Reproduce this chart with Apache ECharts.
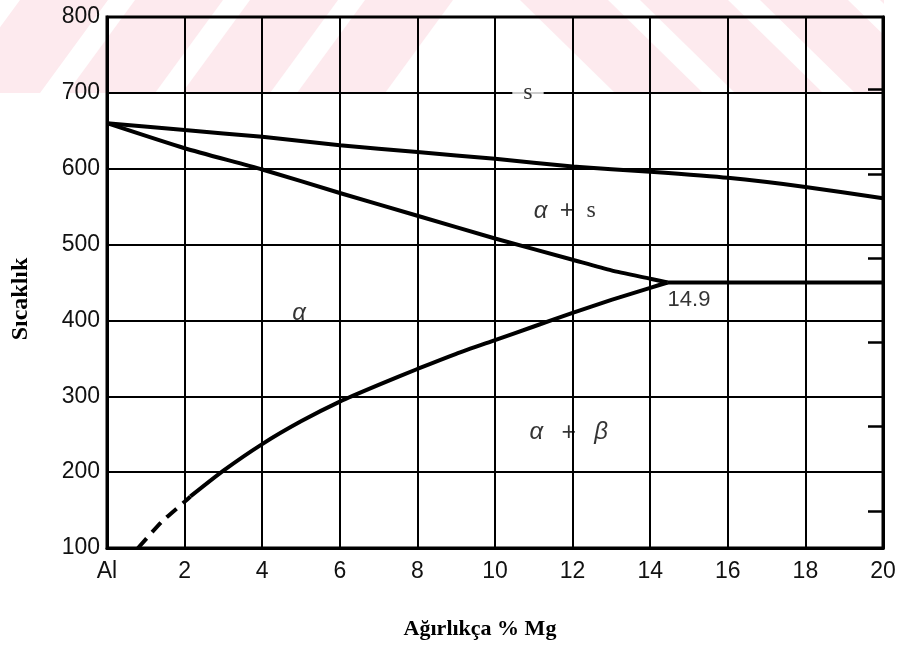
<!DOCTYPE html>
<html>
<head>
<meta charset="utf-8">
<script src="https://cdn.jsdelivr.net/npm/echarts@6/dist/echarts.min.js"></script>
<style>html,body{margin:0;padding:0;background:#fff}#c{width:904px;height:647px}</style>
</head>
<body>
<div id="c"></div>
<script>
// ---- data ----
const xTickLabels = ['Al','2','4','6','8','10','12','14','16','18','20'];
const liquidusX = [0, 2, 4, 6, 8, 10, 12, 14, 16, 18, 20];
const liquidusY = [660, 651, 642, 631, 622, 613, 603, 596, 588, 576, 561];
const solidusX = [0, 2, 4, 6, 8, 10, 12, 13, 14, 14.45];
const solidusY = [660, 627, 599, 568, 538, 508, 480, 466, 455, 450];
const eutecticX = [14.45, 20];
const eutecticY = [450, 450];
const solvusX = [2.15, 3, 4, 5, 6, 7, 8, 9, 10, 11, 12, 13, 14, 14.45];
const solvusY = [168, 202, 237, 267, 293, 315, 336, 356, 374, 392, 410, 427, 443, 450];
const solvusDashX = [0.8, 1.4, 2.0, 2.15];
const solvusDashY = [100, 134, 161, 168];
const fahrenheitTicks = [300, 500, 700, 900, 1100, 1300];
const labelX = [10.85, 11.8, 11.9, 4.95, 15.0];
const labelY = [700, 544, 252, 410, 427];
const labelText = ['s', 'alpha_s', 'alpha_beta', 'alpha', '14.9'];

const zip = (a, b) => a.map((v, i) => [v, b[i]]);
const rightTickC = fahrenheitTicks.map(f => (f - 32) * 5 / 9);

const chart = echarts.init(document.getElementById('c'), null, {renderer: 'canvas'});

// watermark stripes (decorative, top band)
const stripes = [];
const pink = '#fdeaee';
const H = 93;
[-95, 20, 135, 250, 365].forEach(x0 => {
  stripes.push({type: 'polygon', z: -10, silent: true,
    shape: {points: [[x0, 0], [x0 + 88, 0], [x0 + 88 - 68, H], [x0 - 68, H]]},
    style: {fill: pink}});
});
[520, 640, 760, 880].forEach(x0 => {
  stripes.push({type: 'polygon', z: -10, silent: true,
    shape: {points: [[x0, 0], [x0 + 88, 0], [x0 + 88 + 95, H], [x0 + 95, H]]},
    style: {fill: pink}});
});
stripes.push({type: 'rect', z: -9, silent: true, shape: {x: 884, y: 0, width: 20, height: H}, style: {fill: '#fff'}});

const lineSeries = (data, dashed) => ({
  type: 'line', data: data, symbol: 'none', smooth: 0.2, z: 5,
  lineStyle: {color: '#000', width: 4, type: dashed ? [13, 8] : 'solid', cap: 'butt'}
});

const richStyles = {
  g: {fontFamily: 'Liberation Sans', fontStyle: 'italic', fontSize: 24, color: '#000'},
  p: {fontFamily: 'Liberation Sans', fontSize: 25, color: '#000'},
  s: {fontFamily: 'Liberation Serif', fontSize: 24, color: '#000'},
  n: {fontFamily: 'Liberation Sans', fontSize: 22, color: '#000'}
};
const fmt = {
  's': '{s|s}',
  'alpha_s': '{g|α}  {p|+}  {s|s}',
  'alpha_beta': '{g|α}   {p|+}   {g|β}',
  'alpha': '{g|α}',
  '14.9': '{n|14.9}'
};

const labelData = labelX.map((x, i) => {
  const item = {value: [x, labelY[i]], name: labelText[i]};
  if (labelText[i] === 's') item.label = {backgroundColor: '#fff', padding: [2, 11, 2, 11]};
  return item;
});

chart.setOption({
  animation: false,
  backgroundColor: '#fff',
  graphic: stripes,
  grid: {left: 107, right: 21, top: 17, bottom: 99, show: true, borderColor: '#000', borderWidth: 3, backgroundColor: 'transparent'},
  xAxis: {
    type: 'value', min: 0, max: 20, interval: 2,
    name: 'Ağırlıkça % Mg', nameLocation: 'middle', nameGap: 70,
    nameTextStyle: {fontFamily: 'Liberation Serif', fontWeight: 'bold', fontSize: 22, color: '#000', padding: [0, 30, 0, 0]},
    axisLine: {show: true, lineStyle: {color: '#000', width: 3}},
    axisTick: {show: false},
    axisLabel: {margin: 12, fontFamily: 'Liberation Sans', fontSize: 23, color: '#111',
      formatter: v => xTickLabels[Math.round(v / 2)]},
    splitLine: {show: true, lineStyle: {color: '#000', width: 2}}
  },
  yAxis: [{
    type: 'value', min: 100, max: 800, interval: 100,
    name: 'Sıcaklık', nameLocation: 'middle', nameGap: 74, nameRotate: 90,
    nameTextStyle: {fontFamily: 'Liberation Serif', fontWeight: 'bold', fontSize: 24, color: '#000', padding: [0, 33, 0, 0]},
    axisLine: {show: true, lineStyle: {color: '#000', width: 3}},
    axisTick: {show: false},
    axisLabel: {margin: 7, fontFamily: 'Liberation Sans', fontSize: 23, color: '#111'},
    splitLine: {show: true, lineStyle: {color: '#000', width: 2}}
  }, {
    type: 'value', min: 100, max: 800, position: 'right',
    axisLine: {show: true, lineStyle: {color: '#000', width: 3}},
    axisTick: {show: true, inside: true, length: 15, customValues: rightTickC, lineStyle: {color: '#000', width: 2.5}},
    axisLabel: {show: false},
    splitLine: {show: false}
  }],
  series: [
    lineSeries(zip(liquidusX, liquidusY)),
    lineSeries(zip(solidusX, solidusY)),
    Object.assign(lineSeries(zip(eutecticX, eutecticY)), {smooth: false}),
    lineSeries(zip(solvusX, solvusY)),
    lineSeries(zip(solvusDashX, solvusDashY), true),
    {
      type: 'scatter', symbolSize: 0, z: 10,
      data: labelData,
      label: {
        show: true, position: 'inside', fontSize: 22, color: '#000',
        formatter: p => fmt[p.name],
        rich: richStyles
      }
    }
  ]
});
</script>
</body>
</html>
